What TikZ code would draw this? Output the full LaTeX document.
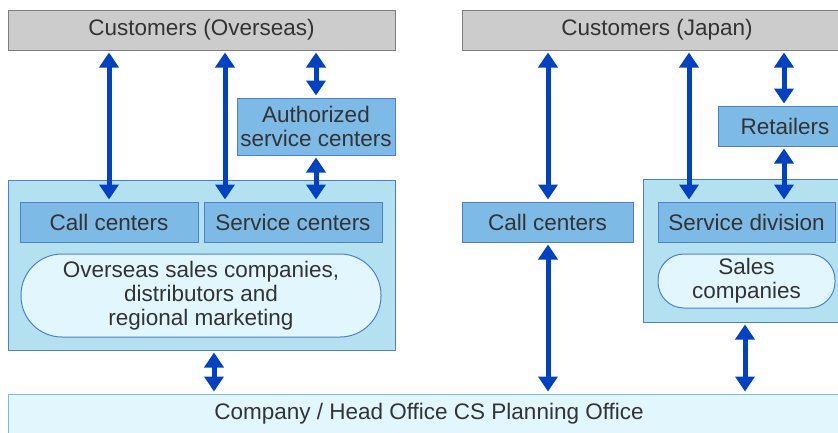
\documentclass[tikz,border=0pt]{standalone}
\usepackage{fontspec}
\setmainfont{Liberation Sans}
\usetikzlibrary{arrows.meta}
\definecolor{csink}{HTML}{333333}
\definecolor{csgray}{HTML}{CCCCCC}
\definecolor{csgrayline}{HTML}{7F7F7F}
\definecolor{csframe}{HTML}{B3E1F0}
\definecolor{csbox}{HTML}{7DBAE6}
\definecolor{csline}{HTML}{4D7FD9}
\definecolor{cspale}{HTML}{E2F6FD}
\definecolor{csarrow}{HTML}{0042C3}

\begin{document}
\begin{tikzpicture}[x=1pt,y=-1pt,
  every node/.style={text=csink, font=\fontsize{22.5}{24}\selectfont, align=center, inner sep=0pt},
  point/.style={coordinate},
  customer/.style={draw=csgrayline, line width=1pt, fill=csgray, rectangle, minimum height=40pt},
  frame/.style={draw=csline, line width=1pt, fill=csframe, rectangle},
  unit/.style={draw=csline, line width=1pt, fill=csbox, rectangle},
  pill/.style={draw=csline, line width=1pt, fill=cspale, rectangle, rounded corners=26pt},
  office/.style={draw=csbox, line width=1pt, fill=cspale, rectangle},
  link/.style={draw=csarrow, line width=5pt, {Triangle[width=19pt,length=15pt]}-{Triangle[width=19pt,length=15pt]}, shorten <=2pt, shorten >=2pt}]
\clip (0,0) rectangle (838,432);
\node[customer, minimum width=387pt] (cusO) at (201.5,30) {Customers (Overseas)};
\node[customer, minimum width=390pt] (cusJ) at (657,30) {Customers (Japan)};
\node[unit, minimum width=158pt, minimum height=57pt] (auth) at (316,126.5) {Authorized\\service centers};
\node[frame, minimum width=387pt, minimum height=170pt] (bigO) at (201.5,265) {};
\node[unit, minimum width=178pt, minimum height=40pt] (callO) at (109,222) {Call centers};
\node[unit, minimum width=178pt, minimum height=40pt] (servO) at (293,222) {Service centers};
\node[pill, minimum width=360pt, minimum height=83pt, rounded corners=41pt] (salesO) at (201,295.5) {Overseas sales companies,\\distributors and\\regional marketing};
\node[unit, minimum width=171pt, minimum height=40pt] (callJ) at (547.5,222) {Call centers};
\node[frame, minimum width=210pt, minimum height=143pt] (bigJ) at (748,250.5) {};
\node[unit, minimum width=177pt, minimum height=40pt] (servJ) at (746.5,222) {Service division};
\node[pill, minimum width=177pt, minimum height=54pt] (salesJ) at (746.5,281) {Sales\\companies};
\node[unit, minimum width=134pt, minimum height=40pt] (ret) at (785,126) {Retailers};
\node[office, minimum width=842pt, minimum height=40pt] (comp) at (429,414) {Company / Head Office CS Planning Office};
\node[point] (a1) at (109,0) {};
\node[point] (a2) at (225,0) {};
\node[point] (a3) at (316,0) {};
\node[point] (a4) at (214,0) {};
\node[point] (a5) at (548,0) {};
\node[point] (a6) at (689,0) {};
\node[point] (a7) at (784,0) {};
\node[point] (a8) at (745,0) {};
\draw[link]   (cusO.south -| a1) -- (callO.north -| a1);
\draw[link]   (cusO.south -| a2) -- (servO.north -| a2);
\draw[link]   (cusO.south -| a3) -- (auth.north -| a3);
\draw[link]   (auth.south -| a3) -- (servO.north -| a3);
\draw[link]   (bigO.south -| a4) -- (comp.north -| a4);
\draw[link]   (cusJ.south -| a5) -- (callJ.north -| a5);
\draw[link]   (callJ.south -| a5) -- (comp.north -| a5);
\draw[link]   (cusJ.south -| a6) -- (servJ.north -| a6);
\draw[link]   (cusJ.south -| a7) -- (ret.north -| a7);
\draw[link]   (ret.south -| a7) -- (servJ.north -| a7);
\draw[link]   (bigJ.south -| a8) -- (comp.north -| a8);
\end{tikzpicture}
\end{document}
